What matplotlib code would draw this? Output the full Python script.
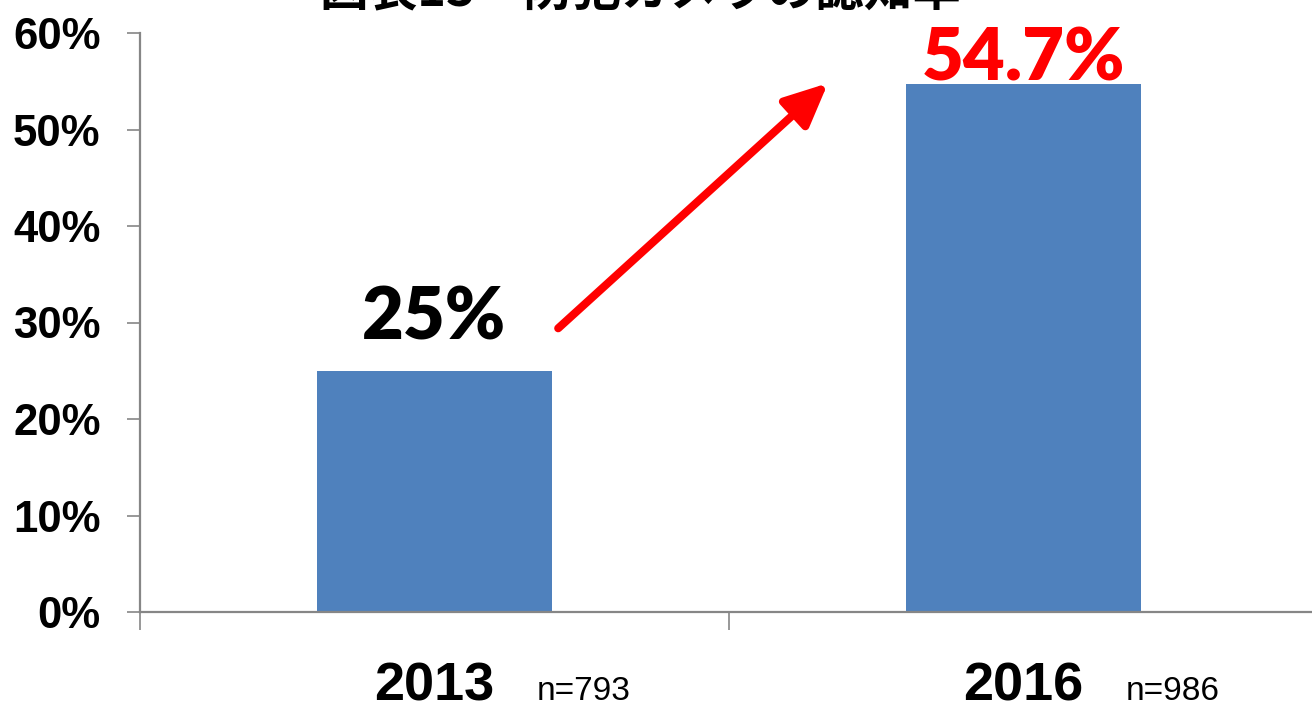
import matplotlib
matplotlib.use("Agg")
import matplotlib.pyplot as plt
from matplotlib.ticker import FixedLocator, NullFormatter

# Data
years = ["2013", "2016"]
sample_sizes = ["n=793", "n=986"]
awareness = [25.0, 54.7]
value_labels = ["25%", "54.7%"]
value_colors = ["black", "#FF0000"]
yticks = [0, 10, 20, 30, 40, 50, 60]
ytick_labels = ["0%", "10%", "20%", "30%", "40%", "50%", "60%"]
title = "図表13　防犯カメラの認知率"

W, H = 1312, 704
fig = plt.figure(figsize=(W / 100, H / 100), dpi=100)
ax = fig.add_axes([140 / W, 92 / H, 1178 / W, 579 / H])

x = list(range(len(years)))
ax.bar(x, awareness, width=0.4, color="#4F81BD", zorder=2)

ax.set_xlim(-0.5, len(years) - 0.5)
ax.set_ylim(0, 60)

gray = "#868686"
for s in ["top", "right"]:
    ax.spines[s].set_visible(False)
for s in ["left", "bottom"]:
    ax.spines[s].set_color(gray)
    ax.spines[s].set_linewidth(1.6)

ax.set_yticks(yticks)
ax.set_yticklabels(ytick_labels, fontfamily="Liberation Sans", fontweight="bold", fontsize=31.5)
ax.tick_params(axis="y", direction="out", length=9.4, width=1.2, color=gray, pad=19)

# x ticks at category boundaries
ax.xaxis.set_major_locator(FixedLocator([i - 0.5 for i in range(len(years) + 1)]))
ax.xaxis.set_major_formatter(NullFormatter())
ax.tick_params(axis="x", direction="out", length=13, width=1.2, color=gray)

# category labels
for i, (yr, n) in enumerate(zip(years, sample_sizes)):
    ax.text(i, -0.152, yr, transform=ax.get_xaxis_transform(), ha="center", va="baseline",
            fontfamily="Liberation Sans", fontweight="bold", fontsize=39,
            clip_on=False)
    ax.text(i + 0.174, -0.152, n, transform=ax.get_xaxis_transform(), ha="left", va="baseline",
            fontfamily="Liberation Sans", fontsize=24, clip_on=False)

# value labels
label_offsets = [3.2, 0.4]
for i, (v, lab, c, off) in enumerate(zip(awareness, value_labels, value_colors, label_offsets)):
    ax.text(i, v + off, lab, ha="center", va="baseline", color=c,
            fontfamily="Lato", fontweight="heavy", fontsize=52, zorder=3)

# rising arrow
ax.annotate("", xy=(0.668, 54.8), xytext=(0.21, 29.4),
            arrowprops=dict(arrowstyle="-|>,head_length=1.3,head_width=0.6", mutation_scale=20,
                            lw=5.8, color="#FF0000", shrinkA=0, shrinkB=0), zorder=4)

fig.text(641 / W, 1 - 5 / H, title, ha="center", va="baseline",
         fontfamily=["Noto Sans CJK JP", "DejaVu Sans"], fontweight="bold", fontsize=35)

fig.savefig("out.png", dpi=100)
